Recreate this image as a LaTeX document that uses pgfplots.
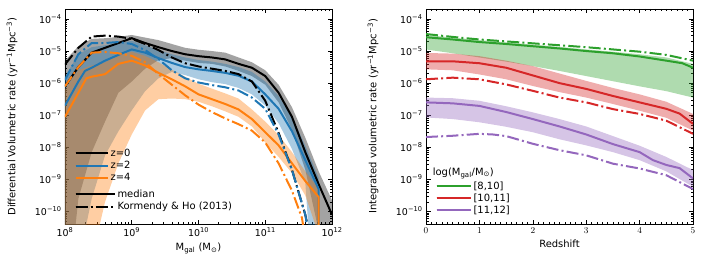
\documentclass[border=0pt]{standalone}
\usepackage{pgfplots}
\pgfplotsset{compat=1.18}
\usepackage{fontspec}
\setmainfont{DejaVu Sans}
\definecolor{tabblue}{HTML}{1F77B4}
\definecolor{taborange}{HTML}{FF7F0E}
\definecolor{tabgreen}{HTML}{2CA02C}
\definecolor{tabred}{HTML}{D62728}
\definecolor{tabpurple}{HTML}{9467BD}
\tikzset{kh/.style={dash pattern=on 12bp off 3.2bp on 2bp off 3.2bp}}
\pgfplotsset{
  myax/.style={
    scale only axis, width=267bp, height=215bp,
    ymin=-10.39, ymax=-3.69,
    tick align=inside, major tick length=4.5bp, minor tick length=2.5bp,
    axis line style={line width=0.8bp},
    every tick/.style={black, line width=0.6bp},
    ytick={-10,-9,-8,-7,-6,-5,-4},
    yticklabels={10\textsuperscript{−10},10\textsuperscript{−9},10\textsuperscript{−8},10\textsuperscript{−7},10\textsuperscript{−6},10\textsuperscript{−5},10\textsuperscript{−4}},
    minor ytick={-10.30103,-10.22185,-10.15490,-10.09691,-10.04576,
      -9.69897,-9.52288,-9.39794,-9.30103,-9.22185,-9.15490,-9.09691,-9.04576,
      -8.69897,-8.52288,-8.39794,-8.30103,-8.22185,-8.15490,-8.09691,-8.04576,
      -7.69897,-7.52288,-7.39794,-7.30103,-7.22185,-7.15490,-7.09691,-7.04576,
      -6.69897,-6.52288,-6.39794,-6.30103,-6.22185,-6.15490,-6.09691,-6.04576,
      -5.69897,-5.52288,-5.39794,-5.30103,-5.22185,-5.15490,-5.09691,-5.04576,
      -4.69897,-4.52288,-4.39794,-4.30103,-4.22185,-4.15490,-4.09691,-4.04576},
    tick label style={font=\fontsize{9.5}{11}\selectfont},
    label style={font=\fontsize{10}{12}\selectfont},
    ylabel style={at={(axis description cs:-0.198,0.5)}, anchor=center},
    legend cell align=left,
  },
  med/.style={line width=2bp},
  kd/.style={line width=2bp, kh},
}
\begin{document}
\begin{tikzpicture}
\useasboundingbox (-65bp,-44bp) rectangle (641bp,224bp);
% ---------------- left panel ----------------
\begin{axis}[myax,
  xmin=8, xmax=12,
  xtick={8,9,10,11,12},
  xticklabels={10\textsuperscript{8},10\textsuperscript{9},10\textsuperscript{10},10\textsuperscript{11},10\textsuperscript{12}},
  minor xtick={8.30103,8.47712,8.60206,8.69897,8.77815,8.84510,8.90309,8.95424,
    9.30103,9.47712,9.60206,9.69897,9.77815,9.84510,9.90309,9.95424,
    10.30103,10.47712,10.60206,10.69897,10.77815,10.84510,10.90309,10.95424,
    11.30103,11.47712,11.60206,11.69897,11.77815,11.84510,11.90309,11.95424},
  xlabel={M\textsubscript{gal} (M\textsubscript{⊙})},
  ylabel={Differential Volumetric rate (yr\textsuperscript{−1}Mpc\textsuperscript{−3})},
  legend style={at={(0.035,0.36)}, anchor=north west, draw=none, fill=none,
    font=\fontsize{10}{11}\selectfont, inner sep=0pt, row sep=-0.5bp},
  legend image code/.code={\draw[#1] (0bp,0bp) -- (25bp,0bp); \path (0bp,0bp) -- (32bp,0bp);},
]
\addlegendimage{black, med}
\addlegendentry{z=0}
\addlegendimage{tabblue, med}
\addlegendentry{z=2}
\addlegendimage{taborange, med}
\addlegendentry{z=4}
% bands
\addplot[draw=none, fill=black, fill opacity=0.36, forget plot] coordinates {
(8.0,-5.3)(8.2,-4.85)(8.4,-4.62)(8.6,-4.6)(8.8,-4.56)(9.0,-4.5)(9.2,-4.58)(9.4,-4.66)(9.6,-4.78)(9.8,-4.9)(10.0,-4.96)(10.2,-5.0)(10.4,-5.05)(10.6,-5.2)(10.8,-5.35)(11.0,-5.6)(11.2,-6.05)(11.4,-6.75)(11.6,-7.7)(11.8,-8.75)(12.0,-9.65)
(12.0,-10.6)(11.8,-10.6)(11.6,-8.7)(11.4,-7.45)(11.2,-6.6)(11.0,-6.05)(10.8,-5.78)(10.6,-5.62)(10.4,-5.48)(10.2,-5.4)(10.0,-5.37)(9.8,-5.3)(9.6,-5.22)(9.4,-5.28)(9.2,-5.55)(9.0,-5.95)(8.8,-6.3)(8.6,-7.2)(8.4,-8.15)(8.2,-9.6)(8.15,-10.6)(8.0,-10.6)};
\addplot[draw=none, fill=tabblue, fill opacity=0.38, forget plot] coordinates {
(8.0,-5.8)(8.2,-5.1)(8.4,-4.88)(8.6,-4.82)(8.8,-4.75)(9.0,-4.68)(9.2,-4.82)(9.4,-4.97)(9.6,-5.1)(9.8,-5.2)(10.0,-5.28)(10.2,-5.33)(10.4,-5.4)(10.6,-5.5)(10.8,-5.65)(11.0,-5.95)(11.2,-6.4)(11.4,-7.05)(11.6,-7.95)(11.8,-8.95)
(11.82,-10.6)(11.65,-10.6)(11.6,-9.1)(11.4,-8.05)(11.2,-7.25)(11.0,-6.7)(10.8,-6.35)(10.6,-6.15)(10.4,-6.03)(10.2,-5.97)(10.0,-5.88)(9.8,-5.75)(9.6,-5.65)(9.4,-5.85)(9.2,-6.25)(9.0,-6.85)(8.8,-7.5)(8.6,-8.25)(8.4,-9.6)(8.3,-10.6)(8.0,-10.6)};
\addplot[draw=none, fill=taborange, fill opacity=0.38, forget plot] coordinates {
(8.0,-6.2)(8.2,-5.6)(8.4,-5.45)(8.6,-5.35)(8.8,-5.1)(9.0,-5.02)(9.2,-5.15)(9.4,-5.35)(9.6,-5.58)(9.8,-5.8)(10.0,-6.02)(10.2,-6.17)(10.4,-6.32)(10.6,-6.48)(10.8,-6.82)(11.0,-7.2)(11.2,-7.62)(11.4,-8.15)(11.6,-8.75)(11.8,-9.3)
(11.82,-10.6)(11.78,-10.6)(11.6,-9.5)(11.4,-8.8)(11.2,-8.3)(11.0,-7.85)(10.8,-7.35)(10.6,-7.05)(10.4,-6.88)(10.2,-6.72)(10.0,-6.58)(9.8,-6.5)(9.6,-6.48)(9.4,-6.5)(9.2,-6.85)(9.0,-7.6)(8.8,-8.5)(8.6,-9.7)(8.5,-10.6)(8.0,-10.6)};
% medians
\addplot[black, med, forget plot] coordinates {
(8.0,-6.1)(8.2,-5.5)(8.4,-5.05)(8.6,-4.9)(8.8,-4.75)(9.0,-4.6)(9.2,-4.75)(9.4,-4.88)(9.6,-5.0)(9.8,-5.1)(10.0,-5.16)(10.2,-5.2)(10.4,-5.26)(10.6,-5.4)(10.8,-5.52)(11.0,-5.78)(11.2,-6.3)(11.4,-7.05)(11.6,-8.15)(11.8,-9.15)(12.0,-10.1)};
\addplot[tabblue, med, forget plot] coordinates {
(8.0,-6.7)(8.2,-5.95)(8.3,-5.62)(8.4,-5.52)(8.6,-5.3)(8.8,-5.12)(9.0,-4.95)(9.2,-5.05)(9.4,-5.22)(9.6,-5.37)(9.8,-5.5)(10.0,-5.57)(10.2,-5.62)(10.4,-5.68)(10.6,-5.77)(10.8,-5.95)(11.0,-6.35)(11.2,-6.8)(11.4,-7.5)(11.6,-8.4)(11.8,-9.3)(11.8,-10.6)};
\addplot[taborange, med, forget plot] coordinates {
(8.0,-7.05)(8.2,-6.3)(8.32,-5.85)(8.4,-5.8)(8.6,-5.72)(8.8,-5.4)(9.0,-5.3)(9.2,-5.45)(9.4,-5.68)(9.6,-5.88)(9.8,-6.1)(10.0,-6.35)(10.2,-6.5)(10.4,-6.65)(10.6,-6.82)(10.8,-7.12)(11.0,-7.53)(11.2,-7.94)(11.4,-8.5)(11.6,-9.05)(11.8,-9.55)(11.8,-10.6)};
% Kormendy & Ho
\addplot[black, kd, forget plot] coordinates {
(8.0,-5.42)(8.2,-4.9)(8.4,-4.55)(8.6,-4.52)(8.8,-4.55)(9.0,-4.62)(9.2,-4.78)(9.4,-4.97)(9.6,-5.2)(9.8,-5.38)(10.0,-5.48)(10.2,-5.55)(10.4,-5.62)(10.6,-5.72)(10.8,-5.95)(11.0,-6.55)(11.2,-7.55)(11.4,-8.7)(11.6,-10.1)(11.65,-10.6)};
\addplot[tabblue, kd, forget plot] coordinates {
(8.0,-5.9)(8.2,-5.1)(8.4,-4.75)(8.6,-4.75)(8.8,-4.72)(9.0,-4.78)(9.2,-4.97)(9.4,-5.25)(9.6,-5.6)(9.8,-5.85)(10.0,-5.98)(10.2,-6.06)(10.4,-6.13)(10.6,-6.23)(10.8,-6.45)(11.0,-6.8)(11.2,-7.6)(11.4,-8.7)(11.6,-10.1)(11.64,-10.6)};
\addplot[taborange, kd, forget plot] coordinates {
(8.0,-6.1)(8.2,-5.5)(8.4,-5.05)(8.6,-5.03)(8.8,-5.07)(9.0,-5.15)(9.2,-5.35)(9.4,-5.72)(9.6,-6.05)(9.8,-6.38)(10.0,-6.67)(10.2,-6.9)(10.4,-7.1)(10.6,-7.28)(10.8,-7.48)(11.0,-7.85)(11.2,-8.5)(11.4,-9.35)(11.55,-10.2)(11.58,-10.6)};
\end{axis}
% second legend of left panel
\begin{axis}[at={(0,0)}, scale only axis, width=267bp, height=215bp, hide axis,
  xmin=0, xmax=1, ymin=0, ymax=1,
  legend cell align=left,
  legend style={at={(0.035,0.17)}, anchor=north west, draw=none, fill=none,
    font=\fontsize{10}{11}\selectfont, inner sep=0pt, row sep=-0.5bp},
  legend image code/.code={\draw[#1] (0bp,0bp) -- (33bp,0bp); \path (0bp,0bp) -- (39bp,0bp);},
]
\addlegendimage{black, med}
\addlegendentry{median}
\addlegendimage{black, kd}
\addlegendentry{Kormendy \& Ho (2013)}
\end{axis}
% ---------------- right panel ----------------
\begin{axis}[myax, at={(361bp,0)},
  xmin=0, xmax=5, xtick={0,1,2,3,4,5}, minor x tick num=9,
  xlabel={Redshift},
  ylabel={Integrated volumetric rate (yr\textsuperscript{−1}Mpc\textsuperscript{−3})},
  legend style={at={(0.035,0.207)}, anchor=north west, draw=none, fill=none,
    font=\fontsize{10}{11}\selectfont, inner sep=0pt, row sep=-1bp},
  legend image code/.code={\draw[#1] (0bp,0bp) -- (27bp,0bp); \path (0bp,0bp) -- (34bp,0bp);},
]
\addlegendimage{tabgreen, med}
\addlegendentry{\relax [8,10]}
\addlegendimage{tabred, med}
\addlegendentry{\relax [10,11]}
\addlegendimage{tabpurple, med}
\addlegendentry{\relax [11,12]}
\node[anchor=west, font=\fontsize{10}{11}\selectfont, inner sep=0pt] at (rel axis cs:0.025,0.237) {log(M\textsubscript{gal}/M\textsubscript{⊙})};
% bands
\addplot[draw=none, fill=tabgreen, fill opacity=0.38, forget plot] coordinates {
(0,-4.5)(0.5,-4.58)(1,-4.66)(1.5,-4.73)(2,-4.8)(2.5,-4.87)(3,-4.95)(3.5,-5.02)(4,-5.1)(4.5,-5.2)(5,-5.4)
(5,-6.45)(4.5,-6.25)(4,-6.1)(3.5,-5.94)(3,-5.78)(2.5,-5.62)(2,-5.47)(1.5,-5.33)(1,-5.2)(0.5,-5.07)(0,-4.95)};
\addplot[draw=none, fill=tabred, fill opacity=0.38, forget plot] coordinates {
(0,-5.06)(0.5,-5.08)(1,-5.16)(1.5,-5.3)(2,-5.47)(2.5,-5.7)(3,-5.93)(3.5,-6.15)(4,-6.35)(4.5,-6.58)(5,-6.96)
(5,-7.48)(4.5,-7.08)(4,-6.86)(3.5,-6.65)(3,-6.45)(2.5,-6.28)(2,-6.09)(1.5,-5.88)(1,-5.73)(0.5,-5.6)(0,-5.57)};
\addplot[draw=none, fill=tabpurple, fill opacity=0.38, forget plot] coordinates {
(0,-6.45)(0.5,-6.47)(1,-6.55)(1.5,-6.72)(2,-6.91)(2.5,-7.12)(3,-7.35)(3.5,-7.65)(4,-7.95)(4.5,-8.3)(5,-8.71)
(5,-9.23)(4.5,-8.75)(4,-8.4)(3.5,-8.15)(3,-7.94)(2.5,-7.75)(2,-7.53)(1.5,-7.36)(1,-7.22)(0.5,-7.12)(0,-7.07)};
% medians
\addplot[tabgreen, med, forget plot] coordinates {
(0,-4.57)(0.5,-4.64)(1,-4.72)(1.5,-4.78)(2,-4.85)(2.5,-4.92)(3,-5.0)(3.5,-5.07)(4,-5.17)(4.5,-5.3)(4.8,-5.38)(5,-5.52)};
\addplot[tabred, med, forget plot] coordinates {
(0,-5.32)(0.5,-5.32)(1,-5.38)(1.5,-5.52)(2,-5.76)(2.5,-6.0)(3,-6.18)(3.5,-6.4)(4,-6.6)(4.5,-6.8)(4.75,-6.95)(5,-7.27)};
\addplot[tabpurple, med, forget plot] coordinates {
(0,-6.6)(0.5,-6.63)(1,-6.71)(1.5,-6.9)(2,-7.12)(2.5,-7.35)(3,-7.6)(3.5,-7.9)(4,-8.15)(4.25,-8.4)(4.5,-8.55)(4.75,-8.65)(5,-8.97)};
% Kormendy & Ho
\addplot[tabgreen, kd, forget plot] coordinates {
(0,-4.47)(0.5,-4.56)(1,-4.64)(1.5,-4.7)(2,-4.76)(2.5,-4.82)(3,-4.88)(3.5,-4.95)(4,-5.02)(4.5,-5.12)(5,-5.3)};
\addplot[tabred, kd, forget plot] coordinates {
(0,-5.88)(0.5,-5.83)(1,-5.88)(1.5,-6.04)(2,-6.24)(2.5,-6.45)(3,-6.6)(3.5,-6.81)(4,-6.96)(4.5,-7.17)(5,-7.58)};
\addplot[tabpurple, kd, forget plot] coordinates {
(0,-7.68)(0.5,-7.64)(1,-7.58)(1.25,-7.6)(1.5,-7.65)(2,-7.89)(2.5,-8.09)(3,-8.25)(3.5,-8.51)(4,-8.66)(4.5,-8.87)(5,-9.3)};
\end{axis}
\end{tikzpicture}
\end{document}
